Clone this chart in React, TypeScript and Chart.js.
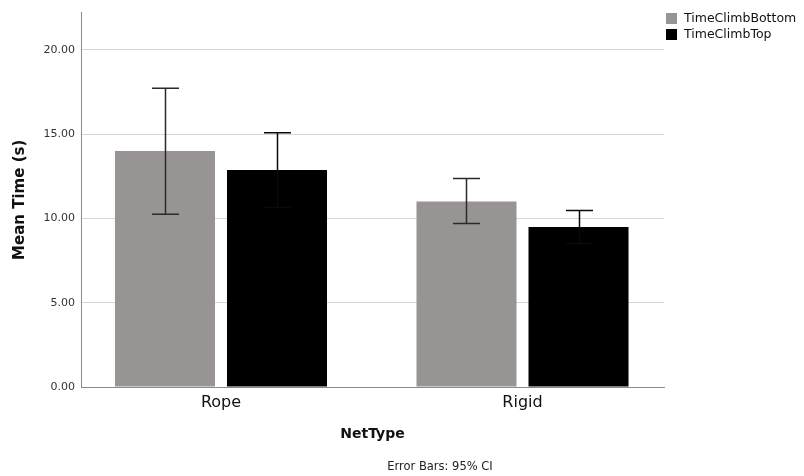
import React, { useEffect, useRef } from "react";
import { Chart, registerables } from "chart.js";

Chart.register(...registerables);

const categories = ["Rope", "Rigid"];
const seriesNames = ["TimeClimbBottom", "TimeClimbTop"];
const seriesColors = ["#989493", "#000000"];
const bottomMeans = [14.0, 11.0];
const bottomLower = [10.25, 9.7];
const bottomUpper = [17.72, 12.37];
const topMeans = [12.86, 9.49];
const topLower = [10.64, 8.51];
const topUpper = [15.08, 10.47];
const yTicks = [0, 5, 10, 15, 20];
const yTitle = "Mean Time (s)";
const xTitle = "NetType";
const footnote = "Error Bars: 95% CI";

const FONT = "'DejaVu Sans', sans-serif";

const errorBarPlugin = {
  id: "errorBars",
  afterDatasetsDraw(chart: any) {
    const ctx = chart.ctx;
    const yScale = chart.scales.y;
    const ranges = [
      [bottomLower, bottomUpper],
      [topLower, topUpper],
    ];
    chart.data.datasets.forEach((_ds: any, di: number) => {
      const meta = chart.getDatasetMeta(di);
      meta.data.forEach((bar: any, i: number) => {
        const x = Math.round(bar.x) + 0.5;
        const lo = yScale.getPixelForValue(ranges[di][0][i]);
        const hi = yScale.getPixelForValue(ranges[di][1][i]);
        ctx.save();
        ctx.strokeStyle = di === 1 ? "#0a0a0a" : "#2a2a2a";
        ctx.lineWidth = 1.5;
        ctx.beginPath();
        ctx.moveTo(x, lo);
        ctx.lineTo(x, hi);
        ctx.moveTo(x - 13.5, hi);
        ctx.lineTo(x + 13.5, hi);
        ctx.moveTo(x - 13.5, lo);
        ctx.lineTo(x + 13.5, lo);
        ctx.stroke();
        ctx.restore();
      });
    });
  },
};

const legendPlugin = {
  id: "customLegend",
  afterDraw(chart: any) {
    const ctx = chart.ctx;
    const area = chart.chartArea;
    const left = area.right + 2;
    ctx.save();
    seriesNames.forEach((name, i) => {
      const top = 13 + i * 16;
      ctx.fillStyle = seriesColors[i];
      ctx.fillRect(left, top, 11, 11);
      ctx.fillStyle = "#111111";
      ctx.font = `12.5px ${FONT}`;
      ctx.textAlign = "left";
      ctx.textBaseline = "middle";
      ctx.fillText(name, left + 18, top + 6);
    });
    ctx.font = `11.5px ${FONT}`;
    ctx.fillStyle = "#222222";
    ctx.textAlign = "center";
    ctx.textBaseline = "middle";
    ctx.fillText(footnote, 440, 467);
    ctx.restore();
  },
};

export default function App() {
  const canvasRef = useRef<HTMLCanvasElement | null>(null);

  useEffect(() => {
    if (!canvasRef.current) return;
    const chart = new Chart(canvasRef.current, {
      type: "bar",
      data: {
        datasets: [
          {
            label: seriesNames[0],
            data: bottomMeans.map((v, i) => ({ x: i, y: v })),
            backgroundColor: seriesColors[0],
            borderWidth: 0,
          },
          {
            label: seriesNames[1],
            data: topMeans.map((v, i) => ({ x: i, y: v })),
            backgroundColor: seriesColors[1],
            borderWidth: 0,
          },
        ],
      },
      plugins: [errorBarPlugin, legendPlugin],
      options: {
        animation: false,
        responsive: true,
        maintainAspectRatio: false,
        categoryPercentage: 0.743,
        barPercentage: 0.893,
        layout: { padding: { top: 10, right: 140, bottom: 30, left: 0 } },
        plugins: {
          legend: { display: false },
          tooltip: { enabled: false },
        },
        scales: {
          x: {
            type: "linear",
            offset: false,
            min: -0.4643,
            max: 1.4693,
            afterBuildTicks: (s: any) => {
              s.ticks = categories.map((_c, i) => ({ value: i }));
            },
            afterFit: (s: any) => {
              s.height = 59;
            },
            grid: { display: false, drawTicks: false, offset: false },
            border: { display: true, color: "#8a8a8a", width: 1 },
            ticks: {
              padding: 6,
              color: "#111111",
              font: { family: FONT, size: 16 },
              callback: (v: any) => categories[Number(v)] ?? "",
              maxRotation: 0,
            },
            title: {
              display: true,
              text: xTitle,
              color: "#111111",
              font: { family: FONT, size: 14, weight: "bold" },
              padding: { top: 0, bottom: 3 },
            },
          },
          y: {
            min: 0,
            max: 22.2,
            afterBuildTicks: (s: any) => {
              s.ticks = yTicks.map((v) => ({ value: v }));
            },
            afterFit: (s: any) => {
              s.width = 81;
            },
            grid: { color: "#d6d6d6", lineWidth: 1, drawTicks: false },
            border: { display: true, color: "#8a8a8a", width: 1 },
            ticks: {
              padding: 6,
              color: "#333333",
              font: { family: FONT, size: 11 },
              callback: (v: any) => Number(v).toFixed(2),
            },
            title: {
              display: true,
              text: yTitle,
              color: "#111111",
              font: { family: FONT, size: 15, weight: "bold" },
              padding: { top: 11, bottom: 0 },
            },
          },
        },
      },
    } as any);
    return () => chart.destroy();
  }, []);

  return (
    <div style={{ position: "fixed", left: 0, top: 0, width: 804, height: 476, background: "#ffffff" }}>
      <canvas ref={canvasRef} />
    </div>
  );
}
